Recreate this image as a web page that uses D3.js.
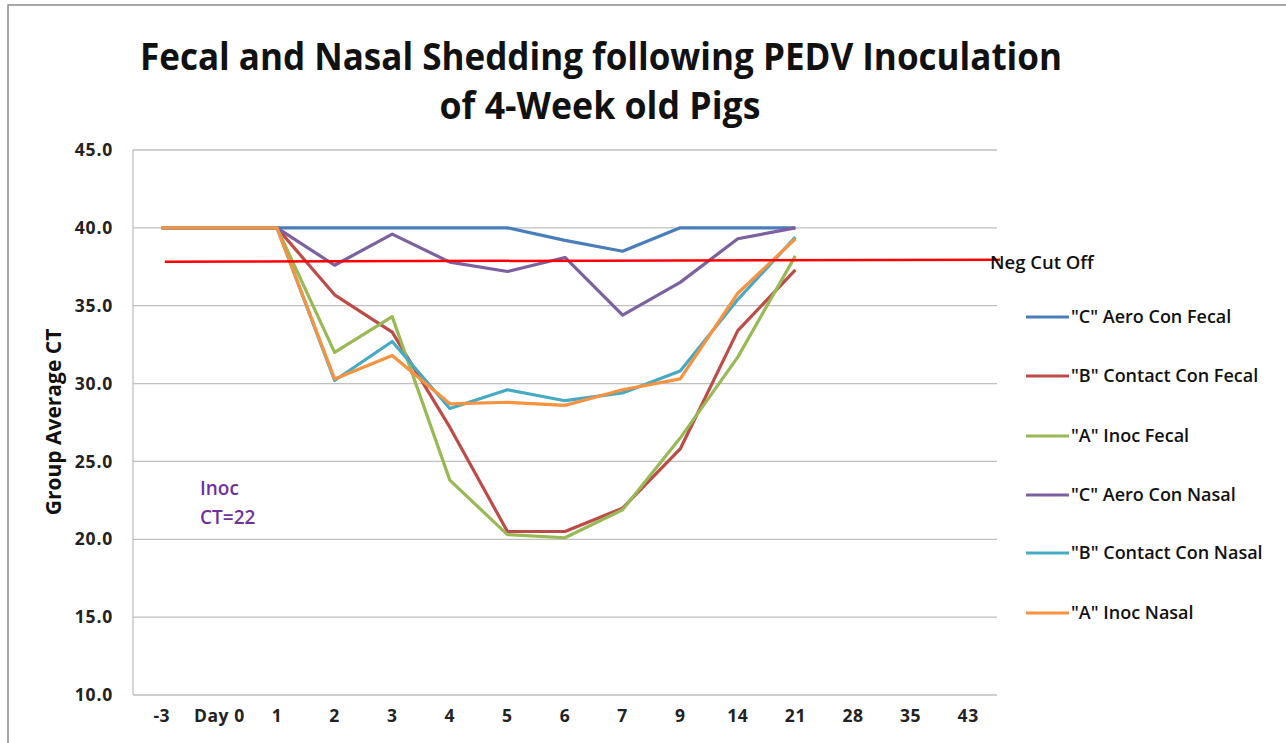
<!DOCTYPE html>
<html>
<head>
<meta charset="utf-8">
<script src="https://cdn.jsdelivr.net/npm/d3@7"></script>
<style>
  body { margin: 0; background: #fff; }
  text { font-family: "Open Sans", "DejaVu Sans", sans-serif; }
</style>
</head>
<body>
<svg id="chart"></svg>
<script>
// Categories on the x axis (days)
const days = ["-3", "Day 0", "1", "2", "3", "4", "5", "6", "7", "9", "14", "21", "28", "35", "43"];

// Group average CT per series (null = no sample)
const aeroConFecal    = [40, 40, 40, 40, 40, 40, 40, 39.2, 38.5, 40, 40, 40, null, null, null];
const contactConFecal = [40, 40, 40, 35.7, 33.3, 27.2, 20.5, 20.5, 22.0, 25.8, 33.4, 37.3, null, null, null];
const inocFecal       = [40, 40, 40, 32.0, 34.3, 23.8, 20.3, 20.1, 21.9, 26.5, 31.7, 38.2, null, null, null];
const aeroConNasal    = [40, 40, 40, 37.6, 39.6, 37.8, 37.2, 38.1, 34.4, 36.5, 39.3, 40.0, null, null, null];
const contactConNasal = [40, 40, 40, 30.2, 32.7, 28.4, 29.6, 28.9, 29.4, 30.8, 35.4, 39.4, null, null, null];
const inocNasal       = [40, 40, 40, 30.3, 31.8, 28.7, 28.8, 28.6, 29.6, 30.3, 35.8, 39.3, null, null, null];

const seriesNames = ['"C" Aero Con Fecal', '"B" Contact Con Fecal', '"A" Inoc Fecal',
                     '"C" Aero Con Nasal', '"B" Contact Con Nasal', '"A" Inoc Nasal'];
const seriesColors = ["#4A7EBB", "#BE4B48", "#98B954", "#7D60A0", "#46AAC5", "#F69240"];

// Negative cut off line (start, end values)
const negCutOff = [37.83, 37.95];

const yTicks = [10, 15, 20, 25, 30, 35, 40, 45];

const width = 1286, height = 743;
const margin = { top: 150, right: 289, bottom: 48, left: 133 };
const plotW = width - margin.left - margin.right;
const plotH = height - margin.top - margin.bottom;

const svg = d3.select("#chart")
    .attr("width", width)
    .attr("height", height);

// Outer chart frame
svg.append("rect")
    .attr("x", 8).attr("y", 5)
    .attr("width", width).attr("height", height)
    .attr("fill", "none")
    .attr("stroke", "#8c8c8c")
    .attr("stroke-width", 1.5);

const g = svg.append("g")
    .attr("transform", "translate(" + margin.left + "," + margin.top + ")");

const x = d3.scaleBand().domain(days).range([0, plotW]).padding(0);
const y = d3.scaleLinear().domain([10, 45]).range([plotH, 0]);
const cx = d => x(d) + x.bandwidth() / 2;

// Gridlines
g.selectAll(".grid")
    .data(yTicks)
    .enter().append("line")
    .attr("x1", 0).attr("x2", plotW)
    .attr("y1", d => y(d)).attr("y2", d => y(d))
    .attr("stroke", "#bfbfbf")
    .attr("stroke-width", 1.3);

// Left axis line
g.append("line")
    .attr("x1", 0).attr("x2", 0)
    .attr("y1", 0).attr("y2", plotH)
    .attr("stroke", "#bfbfbf")
    .attr("stroke-width", 1.3);

// Y tick labels
const yAxis = g.append("g")
    .call(d3.axisLeft(y).tickValues(yTicks).tickFormat(d3.format(".1f")).tickSize(0).tickPadding(20));
yAxis.select(".domain").remove();
yAxis.selectAll("text")
    .style("font-size", "17.5px")
    .style("font-weight", "bold")
    .style("letter-spacing", "0.8px")
    .style("font-family", "'Open Sans', sans-serif")
    .attr("fill", "#222");

// X tick labels
const xAxis = g.append("g")
    .attr("transform", "translate(0," + plotH + ")")
    .call(d3.axisBottom(x).tickSize(0).tickPadding(15));
xAxis.select(".domain").remove();
xAxis.selectAll("text")
    .style("font-size", "17.5px")
    .style("font-weight", "bold")
    .style("letter-spacing", "0.6px")
    .style("font-family", "'Open Sans', sans-serif")
    .attr("fill", "#222");

// Series lines
const allSeries = [aeroConFecal, contactConFecal, inocFecal, aeroConNasal, contactConNasal, inocNasal];
const line = d3.line()
    .defined(d => d.v !== null)
    .x(d => cx(d.day))
    .y(d => y(d.v));

allSeries.forEach((vals, i) => {
    g.append("path")
        .datum(vals.map((v, j) => ({ day: days[j], v: v })))
        .attr("fill", "none")
        .attr("stroke", seriesColors[i])
        .attr("stroke-width", 3.2)
        .attr("stroke-linejoin", "round")
        .attr("d", line);
});

// Neg cut off line
g.append("line")
    .attr("x1", cx(days[0]) + 3).attr("x2", plotW + 3)
    .attr("y1", y(negCutOff[0])).attr("y2", y(negCutOff[1]))
    .attr("stroke", "#ff0000")
    .attr("stroke-width", 2.5);

svg.append("text")
    .attr("x", 990).attr("y", 269)
    .style("font-size", "18.5px")
    .attr("font-weight", 600)
    .attr("fill", "#111")
    .text("Neg Cut Off");

// Legend
const legend = svg.append("g");
const legendY = [317, 376, 436, 495, 553, 613];
seriesNames.forEach((name, i) => {
    legend.append("line")
        .attr("x1", 1026).attr("x2", 1069)
        .attr("y1", legendY[i]).attr("y2", legendY[i])
        .attr("stroke", seriesColors[i])
        .attr("stroke-width", 3);
    legend.append("text")
        .attr("x", 1071).attr("y", legendY[i])
        .attr("dy", "0.35em")
        .style("font-size", "18px")
        .attr("font-weight", 600)
        .attr("fill", "#111")
        .text(name);
});

// Inoc annotation
svg.append("text")
    .attr("x", 200).attr("y", 495)
    .style("font-size", "19px")
    .attr("font-weight", 600)
    .attr("fill", "#7030A0")
    .text("Inoc");
svg.append("text")
    .attr("x", 200).attr("y", 524)
    .style("font-size", "19px")
    .attr("font-weight", 600)
    .attr("fill", "#7030A0")
    .text("CT=22");

// Y axis title
svg.append("text")
    .attr("transform", "translate(61,422) rotate(-90)")
    .attr("text-anchor", "middle")
    .style("font-size", "21px")
    .attr("font-weight", "bold")
    .attr("fill", "#111")
    .text("Group Average CT");

// Title
svg.append("text")
    .attr("x", 601).attr("y", 70)
    .attr("text-anchor", "middle")
    .style("font-size", "38px")
    .attr("font-weight", "bold")
    .attr("fill", "#111")
    .attr("textLength", 922)
    .attr("lengthAdjust", "spacingAndGlyphs")
    .text("Fecal and Nasal Shedding following PEDV Inoculation");
svg.append("text")
    .attr("x", 600).attr("y", 119)
    .attr("text-anchor", "middle")
    .style("font-size", "38px")
    .attr("font-weight", "bold")
    .attr("fill", "#111")
    .attr("textLength", 321)
    .attr("lengthAdjust", "spacingAndGlyphs")
    .text("of 4-Week old Pigs");
</script>
</body>
</html>
